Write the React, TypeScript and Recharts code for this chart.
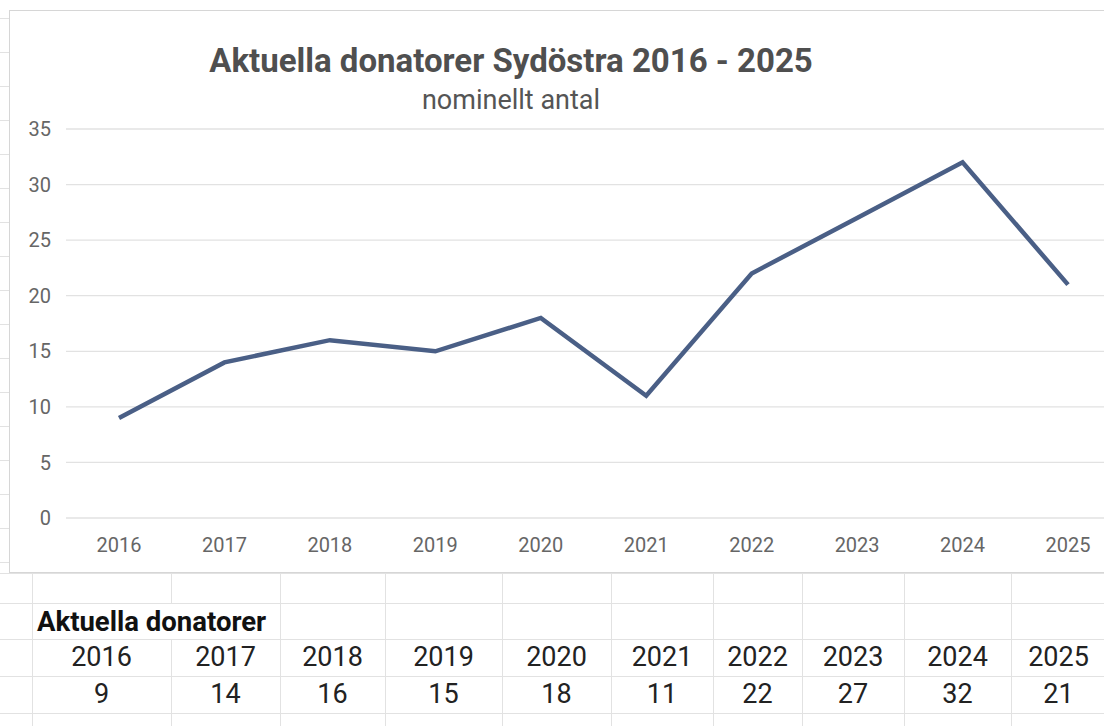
import React from "react";
import { CartesianGrid, Line, LineChart, XAxis, YAxis } from "recharts";

const years = ["2016", "2017", "2018", "2019", "2020", "2021", "2022", "2023", "2024", "2025"];
const donors = [9, 14, 16, 15, 18, 11, 22, 27, 32, 21];
const yTicks = [0, 5, 10, 15, 20, 25, 30, 35];

const chartTitle = "Aktuella donatorer Sydöstra 2016 - 2025";
const chartSubtitle = "nominellt antal";
const tableTitle = "Aktuella donatorer";

// spreadsheet geometry (screenshot of a sheet under the chart)
const colEdges = [32, 171, 280, 385, 502, 611, 713, 802, 904, 1011, 1106];
const rowEdges = [573, 603, 639, 676, 713, 750];
const sideTicks = [18, 52, 86, 120, 154, 188, 222, 256, 290, 324, 358, 392, 426, 460, 494, 528, 562];

const gridColor = "#e2e2e2";
const font = "Roboto, 'Noto Sans', sans-serif";

const data = years.map((year, i) => ({ year, value: donors[i] }));

const SheetTable: React.FC = () => {
  const cells: React.ReactNode[] = [];
  // horizontal lines
  rowEdges.forEach((y, i) =>
    cells.push(
      <div
        key={`h${i}`}
        style={{ position: "absolute", left: 0, top: y, width: 1104, height: 1, background: gridColor }}
      />
    )
  );
  // vertical lines per row (title text hides the line it overflows)
  for (let r = 0; r < rowEdges.length - 1; r++) {
    colEdges.forEach((x, c) => {
      if (r === 1 && c === 1) return;
      cells.push(
        <div
          key={`v${r}-${c}`}
          style={{
            position: "absolute",
            left: x,
            top: rowEdges[r],
            width: 1,
            height: rowEdges[r + 1] - rowEdges[r],
            background: gridColor,
          }}
        />
      );
    });
  }
  cells.push(
    <div
      key="title"
      style={{
        position: "absolute",
        left: 37,
        top: rowEdges[1] + 1,
        height: rowEdges[2] - rowEdges[1],
        lineHeight: `${rowEdges[2] - rowEdges[1]}px`,
        fontSize: 27.5,
        fontWeight: 700,
        color: "#111",
        whiteSpace: "nowrap",
      }}
    >
      {tableTitle}
    </div>
  );
  const rows: string[][] = [years, donors.map(String)];
  rows.forEach((row, r) =>
    row.forEach((txt, c) =>
      cells.push(
        <div
          key={`t${r}-${c}`}
          style={{
            position: "absolute",
            left: colEdges[c],
            width: colEdges[c + 1] - colEdges[c],
            top: rowEdges[r + 2],
            height: rowEdges[r + 3] - rowEdges[r + 2],
            lineHeight: `${rowEdges[r + 3] - rowEdges[r + 2]}px`,
            textAlign: "center",
            fontSize: 27,
            color: "#222",
          }}
        >
          {txt}
        </div>
      )
    )
  );
  return <>{cells}</>;
};

export default function App() {
  return (
    <div
      style={{
        position: "fixed",
        left: 0,
        top: 0,
        width: 1104,
        height: 726,
        overflow: "hidden",
        background: "#fff",
        fontFamily: font,
      }}
    >
      {sideTicks.map((y) => (
        <div key={y} style={{ position: "absolute", left: 0, top: y, width: 9, height: 1, background: gridColor }} />
      ))}
      <div
        style={{
          position: "absolute",
          left: 9,
          top: 10,
          width: 1110,
          height: 563,
          border: "1px solid #d6d6d6",
          boxSizing: "border-box",
        }}
      />
      <div style={{ position: "absolute", left: 0, top: 0 }}>
        <LineChart
          width={1140}
          height={573}
          data={data}
          margin={{ top: 129, right: 19, left: 10, bottom: 15 }}
        >
          <CartesianGrid vertical={false} stroke={gridColor} strokeWidth={1.3} />
          <XAxis
            dataKey="year"
            axisLine={false}
            tickLine={false}
            tickSize={0}
            tickMargin={20}
            height={40}
            padding={{ left: 53, right: 53 }}
            interval={0}
            tick={{ fill: "#666", fontSize: 20, fontFamily: font }}
          />
          <YAxis
            domain={[0, 35]}
            ticks={yTicks}
            axisLine={false}
            tickLine={false}
            tickSize={0}
            tickMargin={15}
            width={56}
            tick={{ fill: "#666", fontSize: 20, fontFamily: font }}
          />
          <Line
            dataKey="value"
            stroke="#4a5f86"
            strokeWidth={4.5}
            dot={false}
            activeDot={false}
            isAnimationActive={false}
          />
        </LineChart>
      </div>
      <div
        style={{
          position: "absolute",
          left: 0,
          width: 1022,
          top: 41,
          textAlign: "center",
          fontSize: 33,
          fontWeight: 700,
          color: "#4f4f4f",
          lineHeight: "40px",
          whiteSpace: "nowrap",
        }}
      >
        {chartTitle}
      </div>
      <div
        style={{
          position: "absolute",
          left: 0,
          width: 1022,
          top: 84,
          textAlign: "center",
          fontSize: 27,
          color: "#555",
          lineHeight: "32px",
        }}
      >
        {chartSubtitle}
      </div>
      <SheetTable />
    </div>
  );
}
